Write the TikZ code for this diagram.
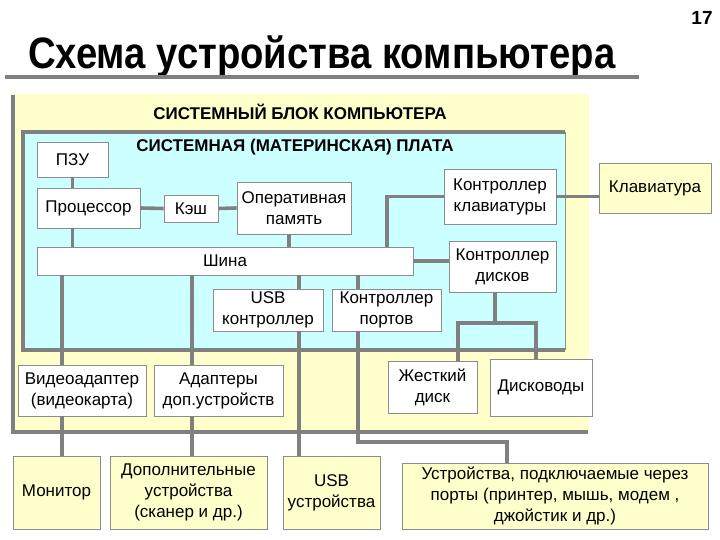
\documentclass[tikz,border=0pt]{standalone}
\usepackage{fontspec}
\usepackage{graphicx}
\setmainfont{Liberation Sans}
\usetikzlibrary{calc}
\definecolor{ylw}{HTML}{FFFFCC}
\definecolor{cyn}{HTML}{CCFFFF}
\definecolor{edge}{HTML}{808080}
\definecolor{bord}{HTML}{8C8C8C}
\tikzset{
  box/.style={draw=bord, line width=0.8pt, fill=white, align=center, inner sep=1pt,
    font=\fontsize{17}{21}\selectfont},
  ybox/.style={box, fill=ylw},
  link/.style={draw=edge, line width=3.6pt},
  hdr/.style={font=\bfseries\fontsize{17}{20}\selectfont, inner sep=0pt}
}
\begin{document}
\begin{tikzpicture}[x=1pt,y=-1pt]
\useasboundingbox (0,0) rectangle (720,540);
\fill[white] (0,0) rectangle (720,540);

% title
\node[anchor=base west, inner sep=0pt, font=\bfseries\fontsize{44}{48}\selectfont] (title) at (28,69)
  {\resizebox{587pt}{\height}{Схема устройства компьютера}};
\draw[edge, line width=4pt] (5,77) -- (639,77);
\node[font=\bfseries\fontsize{19}{20}\selectfont, inner sep=0pt] (pg) at (702,17.5) {17};

% system unit
\fill[ylw] (13,95) rectangle (588,432);
\draw[bord, double=ylw, double distance=1.2pt, line width=0.5pt] (13,95) rectangle (588,432);
\draw[edge, line width=4pt] (13,95) -- (13,432) -- (588,432);
\node[hdr] (sysT) at (300,112) {СИСТЕМНЫЙ БЛОК КОМПЬЮТЕРА};

% motherboard
\fill[cyn] (23,132) rectangle (565,350);
\draw[bord, line width=0.8pt] (565,132) -- (565,350);
\draw[edge, line width=4pt] (565,132) -- (23,132) -- (23,350) -- (565,350);
\node[hdr] (mbT) at (295,147) {СИСТЕМНАЯ (МАТЕРИНСКАЯ) ПЛАТА};

% boxes
\node[box, minimum width=71pt, minimum height=35pt] (pzu) at (72.5,159.5) {ПЗУ};
\node[box, minimum width=103pt, minimum height=40pt] (cpu) at (88.5,208) {Процессор};
\node[box, minimum width=54pt, minimum height=27pt] (cache) at (191,208.5) {Кэш};
\node[box, minimum width=114pt, minimum height=52pt] (ram) at (294,208) {Оперативная\\память};
\node[box, minimum width=376pt, minimum height=28pt] (bus) at (225,261) {Шина};
\node[box, minimum width=112pt, minimum height=55pt] (kbc) at (500,196.5) {Контроллер\\клавиатуры};
\node[box, minimum width=107pt, minimum height=51pt] (dc) at (502.5,266.5) {Контроллер\\дисков};
\node[ybox, minimum width=112pt, minimum height=50pt] (kb) at (655,188) {Клавиатура};
\node[box, minimum width=110pt, minimum height=42pt] (usbc) at (268,310) {USB\\контроллер};
\node[box, minimum width=109pt, minimum height=42pt] (portc) at (386.5,310) {Контроллер\\портов};
\node[box, minimum width=128pt, minimum height=51pt] (video) at (82,390.5) {Видеоадаптер\\(видеокарта)};
\node[box, minimum width=129pt, minimum height=51pt] (adapt) at (218.5,390.5) {Адаптеры\\доп.устройств};
\node[box, minimum width=89pt, minimum height=52pt] (hdd) at (432.5,387) {Жесткий\\диск};
\node[box, minimum width=102pt, minimum height=57pt] (fdd) at (541,387.5) {Дисководы};
\node[ybox, minimum width=87pt, minimum height=73pt] (mon) at (56.5,492.5) {Монитор};
\node[ybox, minimum width=157pt, minimum height=73pt] (extra) at (188.5,492.5) {Дополнительные\\устройства\\(сканер и др.)};
\node[ybox, minimum width=97pt, minimum height=73pt] (usbd) at (331.5,492.5) {USB\\устройства};
\node[ybox, minimum width=306pt, minimum height=66pt] (portd) at (555,496) {Устройства, подключаемые через\\порты (принтер, мышь, модем ,\\джойстик и др.)};

% helper coordinates
\coordinate (cV) at (62,0);
\coordinate (cA) at (192,0);
\coordinate (cR) at (289,0);
\coordinate (cU) at (299,0);
\coordinate (cP) at (358,0);
\coordinate (cK) at (387,0);
\coordinate (cD) at (495,323);
\coordinate (cH) at (458,323);
\coordinate (cF) at (536,323);
\coordinate (cPt) at (507,442);

% links
\draw[link] (pzu.south) -- (pzu.south |- cpu.north);
\draw[link] (pzu.south |- cpu.south) -- (pzu.south |- bus.north);
\draw[link] (cpu.east) -- (cache.west);
\draw[link] (cache.east) -- (ram.west);
\draw[link] (ram.south -| cR) -- (bus.north -| cR);
\draw[link] (bus.north -| cK) |- (kbc.west);
\draw[link] (kbc.east) -- (kbc.east -| kb.west);
\draw[link] (bus.east) -- (bus.east -| dc.west);
\draw[link] (bus.south -| cU) -- (usbc.north -| cU);
\draw[link] (bus.south -| cP) -- (portc.north -| cP);
\draw[link] (bus.south -| cV) -- (video.north -| cV);
\draw[link] (video.south -| cV) -- (mon.north -| cV);
\draw[link] (bus.south -| cA) -- (adapt.north -| cA);
\draw[link] (adapt.south -| cA) -- (extra.north -| cA);
\draw[link] (usbc.south -| cU) -- (usbd.north -| cU);
\draw[link] (portc.south -| cP) |- (cPt) -- (portd.north -| cPt);
\draw[link] (dc.south -| cD) -- (cD);
\draw[link] (hdd.north -| cH) -- (cH) -- (cF) -- (fdd.north -| cF);
\end{tikzpicture}
\end{document}
